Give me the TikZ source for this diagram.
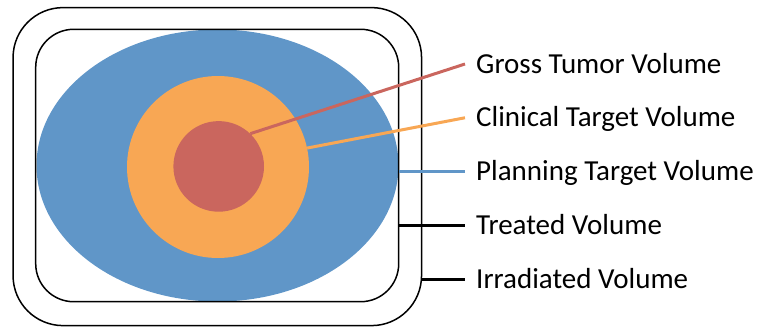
\documentclass[tikz,border=0pt]{standalone}
\usepackage{fontspec}
\setmainfont{Carlito}
\usetikzlibrary{shapes.geometric}
\definecolor{ptvblue}{RGB}{96,150,200}
\definecolor{ctvorange}{RGB}{248,167,84}
\definecolor{gtvred}{RGB}{202,102,94}
\tikzset{
  volbox/.style={draw=black, line width=1.5pt, fill=none, inner sep=0pt},
  blob/.style={circle, draw=none, inner sep=0pt},
  lbl/.style={anchor=west, inner xsep=11pt, inner ysep=0pt, text height=18.2pt, text depth=0pt, font=\fontsize{29}{33}\selectfont},
  conn/.style={line width=3pt}
}
\begin{document}
\begin{tikzpicture}[x=1pt,y=-1pt]
\useasboundingbox (0,0) rectangle (757,327);
% planning target volume
\node[ellipse, fill=ptvblue, draw=none, inner sep=0pt, minimum width=362pt, minimum height=272pt] (ptv) at (217.5,165.5) {};
\node[blob, fill=ctvorange, minimum size=182pt] (ctv) at (218,167) {};
\node[blob, fill=gtvred, minimum size=90.6pt] (gtv) at (218.7,166.4) {};
% treated / irradiated volumes
\node[volbox, rounded corners=38pt, minimum width=363pt, minimum height=272.4pt] (tv) at (217.2,165.5) {};
\node[volbox, rounded corners=50pt, minimum width=408.5pt, minimum height=318pt] (iv) at (217.3,166.6) {};
% labels
\node[lbl] (lgtv) at (465,64) {Gross Tumor Volume};
\node[lbl] (lctv) at (465,117.75) {Clinical Target Volume};
\node[lbl] (lptv) at (465,171.5) {Planning Target Volume};
\node[lbl] (ltv) at (465,225.25) {Treated Volume};
\node[lbl] (liv) at (465,279) {Irradiated Volume};
% connectors
\draw[conn, gtvred] (gtv.46) -- (lgtv.west);
\draw[conn, ctvorange] (ctv.12) -- (lctv.west);
\draw[conn, ptvblue] (lptv.west -| ptv.east) -- (lptv.west);
\draw[conn, black] (ltv.west -| tv.east) -- (ltv.west);
\draw[conn, black] (liv.west -| iv.east) -- (liv.west);
\end{tikzpicture}
\end{document}
